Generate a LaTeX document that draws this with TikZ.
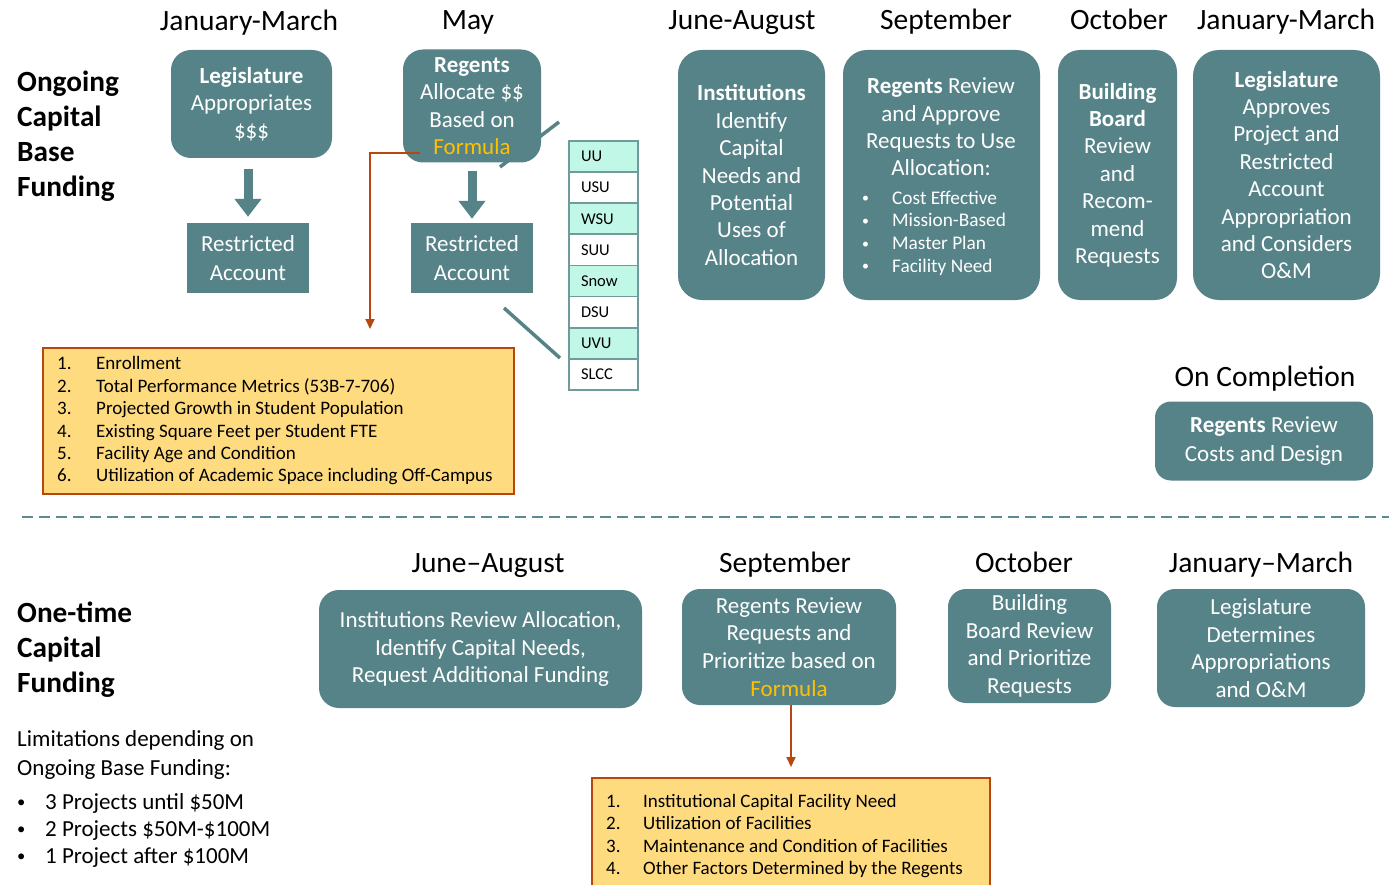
\documentclass[tikz,border=0pt]{standalone}
\usepackage{fontspec}
\setmainfont{Carlito}
\usetikzlibrary{arrows.meta}
\definecolor{teal1}{HTML}{568388}
\definecolor{goldc}{HTML}{FFC000}
\definecolor{redc}{HTML}{B8460F}
\definecolor{yfill}{HTML}{FFDB7F}
\definecolor{mintc}{HTML}{C1F7E6}
\definecolor{listline}{HTML}{6F9B9B}
\definecolor{dashc}{HTML}{5B8C95}
\newcommand{\fHdr}{\fontsize{29.5}{35}\selectfont}
\newcommand{\fBoxT}{\fontsize{23}{27.4}\selectfont}
\newcommand{\fBoxR}{\fontsize{23}{29}\selectfont}
\newcommand{\fBoxB}{\fontsize{23}{27.7}\selectfont}
\newcommand{\fYel}{\fontsize{19}{22.4}\selectfont}
\newcommand{\fList}{\fontsize{16.5}{20}\selectfont}
\newcommand{\fSide}{\bfseries\fontsize{29.3}{35}\selectfont}
\newcommand{\fLimit}{\fontsize{23}{29}\selectfont}
\newcommand{\fLimitB}{\fontsize{23}{27}\selectfont}
\newcommand{\smbul}{\raisebox{0.07em}{\scalebox{0.72}{•}}}
\begin{document}
\begin{tikzpicture}[x=1pt,y=-1pt]
\tikzset{
 tbox/.style={fill=teal1, text=white, rounded corners=20pt, align=center, font=\fBoxT, inner sep=0pt},
 sqbox/.style={fill=teal1, text=white, align=center, font=\fBoxR, inner sep=0pt},
 hdr/.style={font=\fHdr, inner sep=0pt, anchor=base},
 side/.style={font=\fSide, align=left, anchor=west, inner sep=0pt},
 instrow/.style={draw=listline, line width=1.8pt, minimum width=69pt, minimum height=31.1pt, text width=45pt, inner xsep=12pt, inner ysep=0pt, align=left, font=\fList},
 mintrow/.style={instrow, fill=mintc},
 whiterow/.style={instrow, fill=white},
 ybox/.style={fill=yfill, draw=redc, line width=2pt, inner sep=0pt},
 ytext/.style={font=\fYel, align=left, anchor=west, inner sep=0pt},
 bigarrow/.style={teal1, line width=9pt, -{Triangle[width=26pt,length=18pt]}},
 redarrow/.style={redc, line width=1.8pt, -{Triangle[width=9pt,length=10pt]}},
 diag/.style={teal1, line width=3.5pt},
}
\useasboundingbox (0,0) rectangle (1389,885);
\fill[white] (0,0) rectangle (1389,885);

% side labels
\node[side] (ocbf) at (17,136) {Ongoing\\Capital\\Base\\Funding};
\node[side] (otcf) at (17,650) {One-time\\Capital\\Funding};

% headers top
\node[hdr] (h1) at (249,31) {January-March};
\node[hdr] (h2) at (468,29.5) {May};
\node[hdr] (h3) at (742,29.5) {June-August};
\node[hdr] (h4) at (946,29.5) {September};
\node[hdr] (h5) at (1119,29.5) {October};
\node[hdr] (h6) at (1286,29.5) {January-March};
\node[hdr] (h7) at (1265,386.5) {On Completion};

% diagonal callout lines
\coordinate (d1a) at (500,167); \coordinate (d1b) at (559,122);
\coordinate (d2a) at (504,308); \coordinate (d2b) at (560,358);
\draw[diag] (d1a) -- (d1b);
\draw[diag] (d2a) -- (d2b);

% top boxes
\node[tbox, minimum width=161pt, minimum height=108pt] (leg) at (251.5,104)
 {\textbf{Legislature}\\Appropriates\\\$\$\$};
\node[tbox, minimum width=138pt, minimum height=113pt] (reg) at (472,106)
 {\textbf{Regents}\\Allocate \$\$\\Based on\\\textcolor{goldc}{Formula}};
\node[sqbox, minimum width=122pt, minimum height=70pt] (ra1) at (248,258) {Restricted\\Account};
\node[sqbox, minimum width=122pt, minimum height=70pt] (ra2) at (472,258) {Restricted\\Account};

\draw[bigarrow, shorten <=11pt, shorten >=6pt] (ra1.north |- leg.south) -- (ra1.north);
\draw[bigarrow, shorten <=8pt, shorten >=4pt] (ra2.north |- reg.south) -- (ra2.north);

\node[tbox, rounded corners=24pt, minimum width=147pt, minimum height=250pt] (inst) at (751.5,175)
 {\textbf{Institutions}\\Identify\\Capital\\Needs and\\Potential\\Uses of\\Allocation};
\node[tbox, rounded corners=24pt, minimum width=197pt, minimum height=250pt] (rr) at (941.5,175) {};
\node[font=\fBoxT, text=white, align=center, inner sep=0pt] (rrt) at (941,127)
 {\textbf{Regents} Review\\and Approve\\Requests to Use\\Allocation:};
\node[font=\fontsize{19.3}{22.6}\selectfont, text=white, align=left, anchor=west, inner sep=0pt] (rrl) at (862,233)
 {\makebox[30pt][l]{\smbul}Cost Effective\\\makebox[30pt][l]{\smbul}Mission-Based\\\makebox[30pt][l]{\smbul}Master Plan\\\makebox[30pt][l]{\smbul}Facility Need};
\node[tbox, rounded corners=22pt, minimum width=119pt, minimum height=250pt] (bb) at (1117.5,175)
 {\textbf{Building}\\\textbf{Board}\\Review\\and\\Recom-\\mend\\Requests};
\node[tbox, rounded corners=26pt, minimum width=187pt, minimum height=250pt] (la) at (1286.5,175)
 {\textbf{Legislature}\\Approves\\Project and\\Restricted\\Account\\Appropriation\\and Considers\\O\&M};
\node[tbox, font=\fBoxR, rounded corners=16pt, minimum width=218pt, minimum height=79pt] (comp) at (1264,441)
 {\textbf{Regents} Review\\Costs and Design};

% institution list
\node[mintrow] (uu) at (603.5,156.6) {UU};
\node[whiterow] (usu) at (603.5,187.7) {USU};
\node[mintrow] (wsu) at (603.5,218.8) {WSU};
\node[whiterow] (suu) at (603.5,249.9) {SUU};
\node[mintrow] (snow) at (603.5,281.0) {Snow};
\node[whiterow] (dsu) at (603.5,312.1) {DSU};
\node[mintrow] (uvu) at (603.5,343.2) {UVU};
\node[whiterow] (slcc) at (603.5,374.3) {SLCC};

% yellow box 1
\node[ybox, minimum width=471pt, minimum height=146pt] (y1) at (278.5,421) {};
\node[ytext] (y1t) at (57,421)
 {\makebox[39pt][l]{1.}Enrollment\\
  \makebox[39pt][l]{2.}Total Performance Metrics (53B-7-706)\\
  \makebox[39pt][l]{3.}Projected Growth in Student Population\\
  \makebox[39pt][l]{4.}Existing Square Feet per Student FTE\\
  \makebox[39pt][l]{5.}Facility Age and Condition\\
  \makebox[39pt][l]{6.}Utilization of Academic Space including Off-Campus};

% red connector 1
\coordinate (r1s) at (420,153);
\coordinate (r1e) at (370,329);
\draw[redarrow] (r1s) -| (r1e);

% dashed separator
\coordinate (dl) at (22,517); \coordinate (dr) at (1389,517);
\draw[dashc, line width=2pt, dash pattern=on 11pt off 6pt] (dl) -- (dr);

% bottom headers
\node[hdr] (g1) at (488,572) {June–August};
\node[hdr] (g2) at (785,572) {September};
\node[hdr] (g3) at (1024,572) {October};
\node[hdr] (g4) at (1261,572) {January–March};

% bottom boxes
\node[tbox, font=\fBoxB, minimum width=323pt, minimum height=118pt] (b1) at (480.5,649)
 {Institutions Review Allocation,\\Identify Capital Needs,\\Request Additional Funding};
\node[tbox, font=\fBoxB, rounded corners=18pt, minimum width=214pt, minimum height=116pt] (b2) at (789,647)
 {Regents Review\\Requests and\\Prioritize based on\\\textcolor{goldc}{Formula}};
\node[tbox, font=\fBoxB, rounded corners=18pt, minimum width=163pt, minimum height=114pt] (b3) at (1029.5,646)
 {Building\\Board Review\\and Prioritize\\Requests};
\node[tbox, font=\fBoxB, rounded corners=18pt, minimum width=208pt, minimum height=118pt] (b4) at (1261,648)
 {Legislature\\Determines\\Appropriations\\and O\&M};

% yellow box 2
\node[ybox, minimum width=398pt, minimum height=120pt] (y2) at (791,838) {};
\node[ytext] (y2t) at (606,836)
 {\makebox[37pt][l]{1.}Institutional Capital Facility Need\\
  \makebox[37pt][l]{2.}Utilization of Facilities\\
  \makebox[37pt][l]{3.}Maintenance and Condition of Facilities\\
  \makebox[37pt][l]{4.}Other Factors Determined by the Regents};
\draw[redarrow, shorten >=10pt] (b2.south -| y2.north) -- (y2.north);

% limitations
\node[font=\fLimit, align=left, anchor=west, inner sep=0pt] (lim) at (17,755)
 {Limitations depending on\\Ongoing Base Funding:};
\node[font=\fLimitB, align=left, anchor=west, inner sep=0pt] (limb) at (17,830)
 {\makebox[28pt][l]{\smbul}3 Projects until \$50M\\\makebox[28pt][l]{\smbul}2 Projects \$50M-\$100M\\\makebox[28pt][l]{\smbul}1 Project after \$100M};
\end{tikzpicture}
\end{document}
